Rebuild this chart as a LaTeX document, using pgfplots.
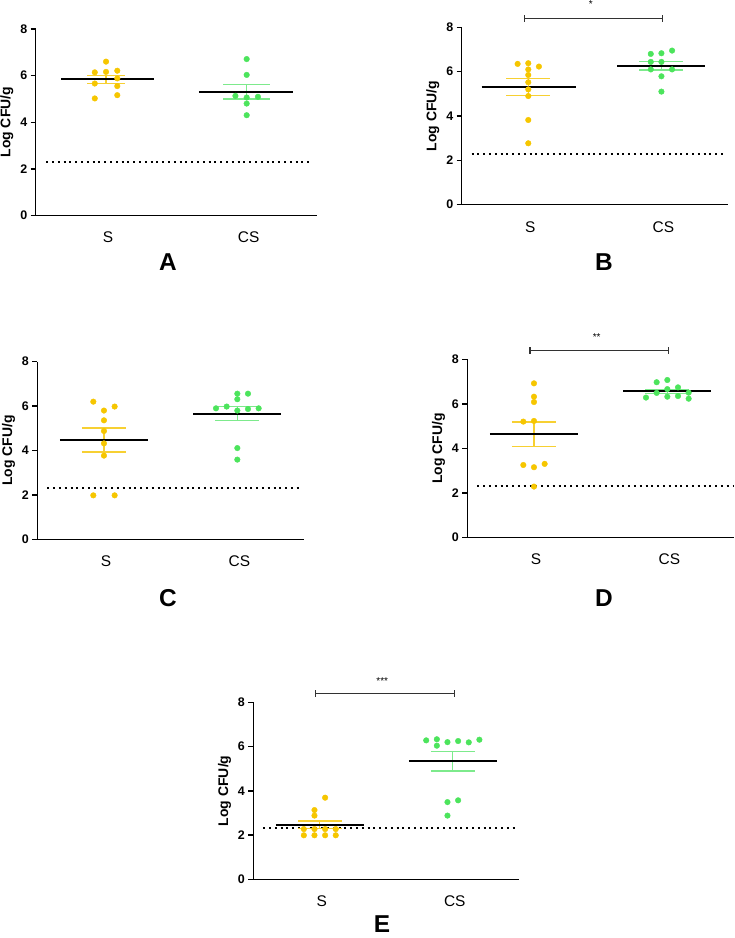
\documentclass[border=0pt]{standalone}
\usepackage{fontspec}
\setmainfont{Liberation Sans}
\usepackage{pgfplots}
\pgfplotsset{compat=1.18}
\definecolor{ylw}{RGB}{246,198,0}
\definecolor{grn}{RGB}{76,228,92}
\definecolor{semy}{RGB}{247,208,50}
\definecolor{semg}{RGB}{125,234,140}
\definecolor{sig}{RGB}{50,50,50}
\tikzset{sigbar/.style={sig, line width=1.2bp}}
\pgfplotsset{
  panel/.style={
    scale only axis, xmin=0.5, xmax=2.5, ymin=0, ymax=8,
    axis lines=left, axis line style={-, line width=1.4bp, black},
    ytick={0,2,4,6,8}, xtick={1,2}, xticklabels={S,CS},
    tick align=outside, major tick length=5bp,
    ytick style={line width=1.4bp, black}, xtick style={draw=none},
    yticklabel style={font=\fontsize{12.5}{13}\selectfont\bfseries},
    xticklabel style={font=\fontsize{15.5}{16}\selectfont, yshift=-8bp, xshift=2bp},
    ylabel={Log CFU/g},
    ylabel style={font=\fontsize{14}{15}\selectfont\bfseries},
    clip=false,
    /pgf/number format/assume math mode=true,
  },
  pts/.style={only marks, mark=*, mark size=2.8bp, color=#1},
  lod/.style={black, line width=2bp, dash pattern=on 2bp off 3.8bp},
  sem/.style={#1, line width=1.3bp},
  mn/.style={black, line width=2.2bp},
}
\newcommand{\sigline}[2]{%
  \draw[sigbar] (axis cs:0.97,8.41) -- (axis cs:2.01,8.41);
  \draw[sigbar] (axis cs:0.97,8.25) -- (axis cs:0.97,8.57);
  \draw[sigbar] (axis cs:2.01,8.25) -- (axis cs:2.01,8.57);
  \node[font=\fontsize{10}{10}\selectfont, inner sep=0pt] at (axis cs:1.47,#2) {#1};
}
\begin{document}
\begin{tikzpicture}
\useasboundingbox (0,0) rectangle (735bp,-938bp);

% ---------------- A
\begin{axis}[panel, at={(35.7bp,-215.4bp)}, anchor=south west, width=281.3bp, height=186.4bp]
\addplot[lod] coordinates {(0.575,2.3) (2.465,2.3)};
\addplot[pts=ylw] coordinates {(1,6.6) (0.92,6.14) (1,6.16) (1.08,6.21) (0.92,5.66) (1.08,5.88) (1.08,5.55) (1.08,5.16) (0.92,5.02)};
\addplot[pts=grn] coordinates {(2,6.71) (2,6.03) (1.92,5.13) (2,5.06) (2.08,5.09) (2,4.80) (2,4.30)};
\addplot[sem=semy] coordinates {(0.865,6.01) (1.135,6.01)};
\addplot[sem=semy] coordinates {(0.865,5.66) (1.135,5.66)};
\addplot[sem=semy] coordinates {(1,5.66) (1,6.01)};
\addplot[sem=semg] coordinates {(1.835,5.62) (2.165,5.62)};
\addplot[sem=semg] coordinates {(1.835,4.99) (2.165,4.99)};
\addplot[sem=semg] coordinates {(2,4.99) (2,5.62)};
\addplot[mn] coordinates {(0.68,5.84) (1.34,5.84)};
\addplot[mn] coordinates {(1.66,5.30) (2.33,5.30)};
\end{axis}
\node[font=\fontsize{24.5}{25}\selectfont\bfseries, inner sep=0pt] at (168bp,-262bp) {A};

% ---------------- B
\begin{axis}[panel, at={(461.7bp,-204.7bp)}, anchor=south west, width=266.3bp, height=177.4bp]
\addplot[lod] coordinates {(0.575,2.3) (2.465,2.3)};
\addplot[pts=ylw] coordinates {(0.92,6.35) (1,6.38) (1.08,6.23) (1,6.10) (1,5.85) (1,5.52) (1,5.20) (1,4.90) (1,3.82) (1,2.77)};
\addplot[pts=grn] coordinates {(1.92,6.80) (2,6.83) (2.08,6.95) (1.92,6.44) (2,6.44) (1.92,6.10) (2.08,6.10) (2,5.79) (2,5.10)};
\addplot[sem=semy] coordinates {(0.835,5.68) (1.165,5.68)};
\addplot[sem=semy] coordinates {(0.835,4.92) (1.165,4.92)};
\addplot[sem=semy] coordinates {(1,4.92) (1,5.68)};
\addplot[sem=semg] coordinates {(1.835,6.47) (2.165,6.47)};
\addplot[sem=semg] coordinates {(1.835,6.08) (2.165,6.08)};
\addplot[sem=semg] coordinates {(2,6.08) (2,6.47)};
\addplot[mn] coordinates {(0.65,5.31) (1.36,5.31)};
\addplot[mn] coordinates {(1.67,6.27) (2.33,6.27)};
\sigline{*}{9.05}
\end{axis}
\node[font=\fontsize{24.5}{25}\selectfont\bfseries, inner sep=0pt] at (604bp,-262bp) {B};

% ---------------- C
\begin{axis}[panel, at={(37.3bp,-539.3bp)}, anchor=south west, width=266.7bp, height=177.6bp]
\addplot[lod] coordinates {(0.575,2.3) (2.465,2.3)};
\addplot[pts=ylw] coordinates {(0.92,6.2) (1,5.8) (1.08,5.98) (1,5.36) (1,4.88) (1,4.32) (1,3.77) (0.92,1.98) (1.08,1.98)};
\addplot[pts=grn] coordinates {(2,6.56) (2.08,6.56) (2,6.31) (1.84,5.90) (1.92,5.98) (2,5.80) (2.08,5.87) (2.16,5.90) (2,4.11) (2,3.59)};
\addplot[sem=semy] coordinates {(0.835,5.02) (1.165,5.02)};
\addplot[sem=semy] coordinates {(0.835,3.93) (1.165,3.93)};
\addplot[sem=semy] coordinates {(1,3.93) (1,5.02)};
\addplot[sem=semg] coordinates {(1.835,5.98) (2.165,5.98)};
\addplot[sem=semg] coordinates {(1.835,5.35) (2.165,5.35)};
\addplot[sem=semg] coordinates {(2,5.35) (2,5.98)};
\addplot[mn] coordinates {(0.67,4.49) (1.33,4.49)};
\addplot[mn] coordinates {(1.67,5.65) (2.33,5.65)};
\end{axis}
\node[font=\fontsize{24.5}{25}\selectfont\bfseries, inner sep=0pt] at (168bp,-598bp) {C};

% ---------------- D
\begin{axis}[panel, at={(467.3bp,-537.3bp)}, anchor=south west, width=266.7bp, height=178bp]
\addplot[lod] coordinates {(0.575,2.3) (2.5,2.3)};
\addplot[pts=ylw] coordinates {(1,6.92) (1,6.32) (1,6.08) (0.92,5.2) (1,5.23) (0.92,3.25) (1,3.15) (1.08,3.3) (1,2.28)};
\addplot[pts=grn] coordinates {(1.92,6.97) (2,7.07) (1.84,6.28) (1.92,6.49) (2,6.66) (2.08,6.74) (2,6.32) (2.08,6.35) (2.16,6.5) (2.16,6.23)};
\addplot[sem=semy] coordinates {(0.835,5.18) (1.165,5.18)};
\addplot[sem=semy] coordinates {(0.835,4.09) (1.165,4.09)};
\addplot[sem=semy] coordinates {(1,4.09) (1,5.18)};
\addplot[sem=semg] coordinates {(1.835,6.65) (2.165,6.65)};
\addplot[sem=semg] coordinates {(1.835,6.47) (2.165,6.47)};
\addplot[sem=semg] coordinates {(2,6.47) (2,6.65)};
\addplot[mn] coordinates {(0.67,4.63) (1.33,4.63)};
\addplot[mn] coordinates {(1.67,6.56) (2.33,6.56)};
\sigline{**}{9.02}
\end{axis}
\node[font=\fontsize{24.5}{25}\selectfont\bfseries, inner sep=0pt] at (604bp,-598bp) {D};

% ---------------- E
\begin{axis}[panel, at={(253.3bp,-879.3bp)}, anchor=south west, width=266bp, height=177bp]
\addplot[lod] coordinates {(0.575,2.3) (2.465,2.3)};
\addplot[pts=ylw] coordinates {(1.04,3.69) (0.96,3.13) (0.96,2.88) (0.88,2.27) (0.96,2.27) (1.04,2.27) (1.12,2.27) (0.88,1.99) (0.96,1.99) (1.04,1.99) (1.12,1.99)};
\addplot[pts=grn] coordinates {(1.8,6.28) (1.88,6.33) (1.88,6.04) (1.96,6.2) (2.04,6.25) (2.12,6.19) (2.2,6.31) (1.96,3.49) (2.04,3.57) (1.96,2.88)};
\addplot[sem=semy] coordinates {(0.835,2.64) (1.165,2.64)};
\addplot[sem=semy] coordinates {(0.835,2.30) (1.165,2.30)};
\addplot[sem=semy] coordinates {(1,2.30) (1,2.64)};
\addplot[sem=semg] coordinates {(1.835,5.79) (2.165,5.79)};
\addplot[sem=semg] coordinates {(1.835,4.90) (2.165,4.90)};
\addplot[sem=semg] coordinates {(2,4.90) (2,5.79)};
\addplot[mn] coordinates {(0.67,2.47) (1.33,2.47)};
\addplot[mn] coordinates {(1.67,5.35) (2.33,5.35)};
\sigline{***}{8.98}
\end{axis}
\node[font=\fontsize{24.5}{25}\selectfont\bfseries, inner sep=0pt] at (382bp,-924bp) {E};
\end{tikzpicture}
\end{document}
